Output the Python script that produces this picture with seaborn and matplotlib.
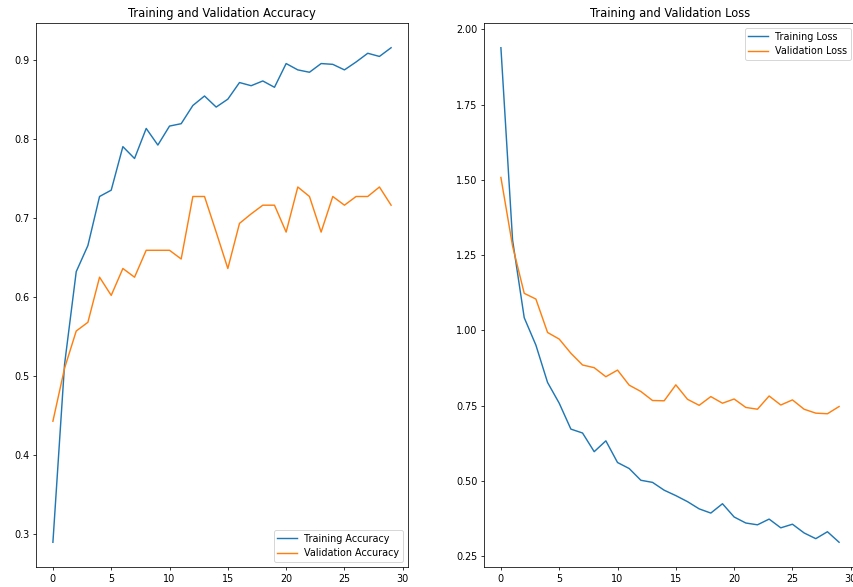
import numpy as np
import pandas as pd
import matplotlib
matplotlib.use("Agg")
import matplotlib.pyplot as plt
import seaborn as sns

epochs = list(range(30))

train_acc = [0.290, 0.515, 0.632, 0.665, 0.727, 0.735, 0.790, 0.775, 0.813, 0.792,
             0.816, 0.819, 0.842, 0.854, 0.840, 0.850, 0.871, 0.867, 0.873, 0.865,
             0.895, 0.887, 0.884, 0.895, 0.894, 0.887, 0.897, 0.908, 0.904, 0.915]
val_acc = [0.443, 0.510, 0.557, 0.568, 0.625, 0.602, 0.636, 0.625, 0.659, 0.659,
           0.659, 0.648, 0.727, 0.727, 0.682, 0.636, 0.693, 0.705, 0.716, 0.716,
           0.682, 0.739, 0.727, 0.682, 0.727, 0.716, 0.727, 0.727, 0.739, 0.716]
train_loss = [1.939, 1.300, 1.042, 0.951, 0.827, 0.758, 0.672, 0.659, 0.597, 0.633,
              0.561, 0.541, 0.502, 0.495, 0.469, 0.451, 0.431, 0.407, 0.393, 0.424,
              0.380, 0.360, 0.354, 0.373, 0.344, 0.356, 0.327, 0.308, 0.331, 0.296]
val_loss = [1.508, 1.280, 1.123, 1.104, 0.993, 0.971, 0.924, 0.885, 0.876, 0.846,
            0.868, 0.818, 0.797, 0.767, 0.766, 0.819, 0.771, 0.751, 0.780, 0.758,
            0.772, 0.744, 0.738, 0.782, 0.752, 0.769, 0.738, 0.725, 0.723, 0.747]

titles = ["Training and Validation Accuracy", "Training and Validation Loss"]
labels_acc = ["Training Accuracy", "Validation Accuracy"]
labels_loss = ["Training Loss", "Validation Loss"]
colors = ["#1f77b4", "#ff7f0e"]

DPI = 69
W, H = 853, 587
fig = plt.figure(figsize=(W / DPI, H / DPI), dpi=DPI)

ax1 = fig.add_axes([36 / W, (H - 567) / H, 372 / W, 544 / H])
ax2 = fig.add_axes([484 / W, (H - 567) / H, 372 / W, 544 / H])

sns.lineplot(x=epochs, y=train_acc, label=labels_acc[0], color=colors[0], ax=ax1)
sns.lineplot(x=epochs, y=val_acc, label=labels_acc[1], color=colors[1], ax=ax1)
ax1.legend(loc="lower right")
ax1.set_title(titles[0])

sns.lineplot(x=epochs, y=train_loss, label=labels_loss[0], color=colors[0], ax=ax2)
sns.lineplot(x=epochs, y=val_loss, label=labels_loss[1], color=colors[1], ax=ax2)
ax2.legend(loc="upper right")
ax2.set_title(titles[1])

fig.savefig("out.png", dpi=DPI)
